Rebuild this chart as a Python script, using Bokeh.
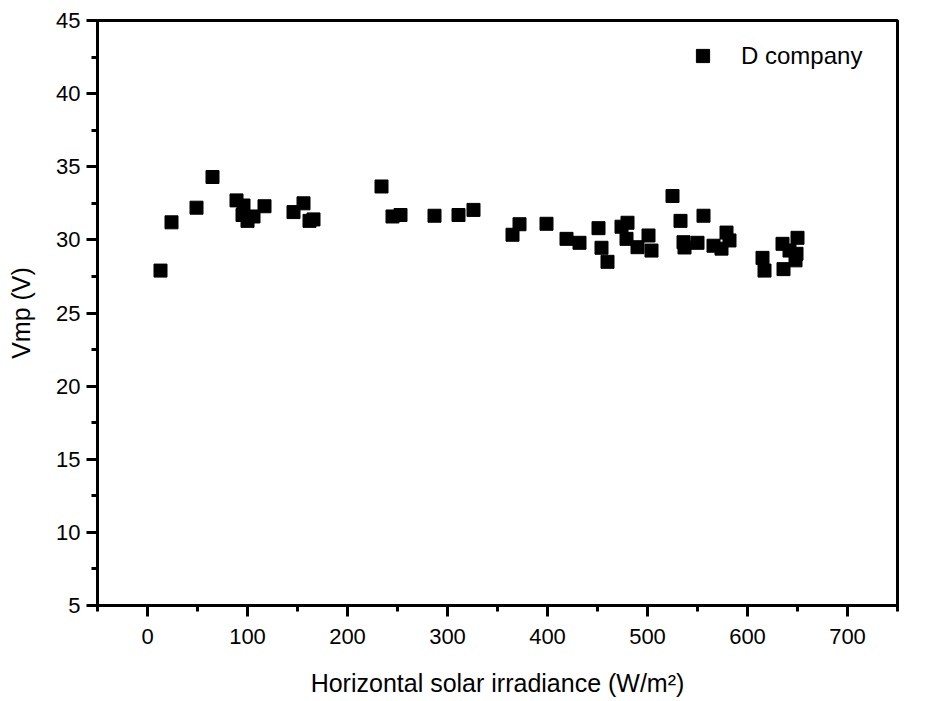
from bokeh.plotting import figure
from bokeh.models import ColumnDataSource, Range1d, LinearAxis, Legend, LegendItem, FixedTicker
from bokeh.embed import file_html
from bokeh.resources import INLINE

# Data
irradiance = [13, 24, 49, 65, 89, 96, 95, 100, 106, 117, 146, 156, 162, 166,
              234, 245, 253, 287, 311, 326, 365, 372, 399, 419, 432, 451, 454,
              460, 474, 480, 479, 490, 501, 504, 525, 533, 536, 537, 550, 556,
              566, 574, 579, 582, 615, 617, 635, 636, 642, 650, 649, 648]
vmp = [27.9, 31.2, 32.2, 34.3, 32.7, 32.35, 31.7, 31.3, 31.6, 32.3, 31.9, 32.5, 31.3, 31.4,
       33.65, 31.6, 31.7, 31.65, 31.7, 32.05, 30.35, 31.07, 31.1, 30.07, 29.8, 30.8, 29.46,
       28.5, 30.9, 31.17, 30.07, 29.5, 30.3, 29.27, 33.0, 31.3, 29.84, 29.48, 29.8, 31.65,
       29.6, 29.4, 30.5, 29.96, 28.77, 27.9, 29.73, 28.0, 29.27, 30.14, 29.05, 28.6]
series_name = "D company"
x_ticks = [0, 100, 200, 300, 400, 500, 600, 700]
y_ticks = [5, 10, 15, 20, 25, 30, 35, 40, 45]
x_label = "Horizontal solar irradiance (W/m\u00b2)"
y_label = "Vmp (V)"

TICK_FONT = "Liberation Sans"
LABEL_FONT = "Liberation Sans"

p = figure(width=917, height=699, output_backend="svg", toolbar_location=None,
           x_range=Range1d(-50, 750), y_range=Range1d(5, 45),
           min_border_left=97, min_border_top=20, min_border_right=20, min_border_bottom=0,
           x_axis_type=None, y_axis_type=None)
p.xgrid.visible = False
p.ygrid.visible = False
p.outline_line_color = "black"
p.outline_line_width = 3
p.outline_line_alpha = 1.0

xaxis = LinearAxis(ticker=FixedTicker(ticks=x_ticks, minor_ticks=[-50, 50, 150, 250, 350, 450, 550, 650, 750]))
yaxis = LinearAxis(ticker=FixedTicker(ticks=y_ticks, minor_ticks=[7.5, 12.5, 17.5, 22.5, 27.5, 32.5, 37.5, 42.5]))
for ax in (xaxis, yaxis):
    ax.axis_line_width = 3
    ax.axis_line_color = "black"
    ax.major_tick_line_width = 3
    ax.minor_tick_line_width = 3
    ax.major_tick_in = 0
    ax.minor_tick_in = 0
    ax.major_tick_out = 11
    ax.minor_tick_out = 6
    ax.major_label_text_font = TICK_FONT
    ax.major_label_text_font_size = "22px"
    ax.major_label_text_color = "black"
    ax.axis_label_text_font = LABEL_FONT
    ax.axis_label_text_font_size = "25px"
    ax.axis_label_text_font_style = "normal"
    ax.axis_label_text_color = "black"
xaxis.axis_label = x_label
yaxis.axis_label = y_label
xaxis.major_label_standoff = 12
xaxis.axis_label_standoff = 22
yaxis.major_label_standoff = 6
yaxis.axis_label_standoff = 18
p.add_layout(xaxis, "below")
p.add_layout(yaxis, "left")

src = ColumnDataSource(data=dict(x=irradiance, y=vmp))
r = p.scatter("x", "y", source=src, marker="square", size=13,
              fill_color="black", line_color="black")

legend = Legend(items=[LegendItem(label=series_name, renderers=[r])],
                location=(589, 533), glyph_width=33, glyph_height=33,
                label_standoff=22, padding=10, spacing=0,
                border_line_color=None, background_fill_alpha=0,
                label_text_font=LABEL_FONT, label_text_font_size="24px",
                label_text_color="black")
p.add_layout(legend)

open("out.html", "w").write(file_html(p, INLINE))
